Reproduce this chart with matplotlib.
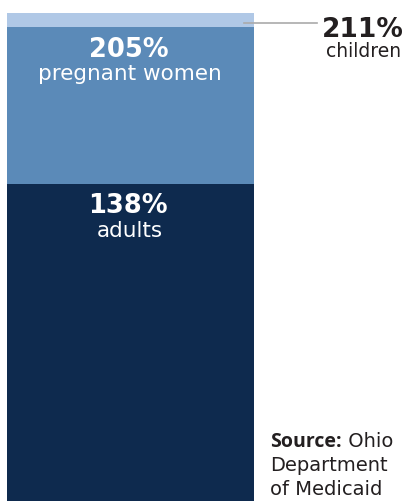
import matplotlib
matplotlib.use("Agg")
import matplotlib.pyplot as plt

groups = ["adults", "pregnant women", "children"]
limits = [138, 205, 211]
colors = ["#0e2a4e", "#5b8ab8", "#b0c8e6"]
source_lines = ["Department", "of Medicaid"]

W, H = 408, 502
PX_PER_UNIT = 2.342
Y_TOP = 508 / PX_PER_UNIT
Y_BOT = (508 - H) / PX_PER_UNIT

fig = plt.figure(figsize=(W / 100, H / 100), dpi=100)
ax = fig.add_axes([0, 0, 1, 1])
ax.set_xlim(0, W)
ax.set_ylim(Y_BOT, Y_TOP)
ax.axis("off")

font = "DejaVu Sans"
dark = "#231f20"


def T(px, py, s, **kw):
    kw.setdefault("family", font)
    kw.setdefault("va", "baseline")
    return fig.text(px / W, 1 - py / H, s, **kw)


bottom = 0
for g, v, c in zip(groups, limits, colors):
    ax.bar(130.5, v - bottom, bottom=bottom, width=247, color=c, linewidth=0)
    bottom = v

# inside labels
T(129, 57, f"{limits[1]}%", ha="center", color="white", fontsize=18.5, fontweight="bold")
T(130, 80, groups[1], ha="center", color="white", fontsize=15.5)
T(128, 213, f"{limits[0]}%", ha="center", color="white", fontsize=18.5, fontweight="bold")
T(130, 237, groups[0], ha="center", color="white", fontsize=15.5)

# children callout
ax.plot([244, 317], [Y_TOP - 24 / PX_PER_UNIT] * 2, color="#aaaaaa", lw=1.2)
T(363, 37, f"{limits[2]}%", ha="center", color=dark, fontsize=19, fontweight="bold")
T(364, 57, groups[2], ha="center", color=dark, fontsize=13.5)

# source
s = T(270, 447, "Source:", ha="left", color=dark, fontsize=14, fontweight="bold",
      family="Open Sans")
fig.canvas.draw()
bb = s.get_window_extent()
T(bb.x1, 447, " Ohio", ha="left", color=dark, fontsize=14)
T(270, 471, source_lines[0], ha="left", color=dark, fontsize=14)
T(270, 495, source_lines[1], ha="left", color=dark, fontsize=14)

fig.savefig("out.png", dpi=100)
